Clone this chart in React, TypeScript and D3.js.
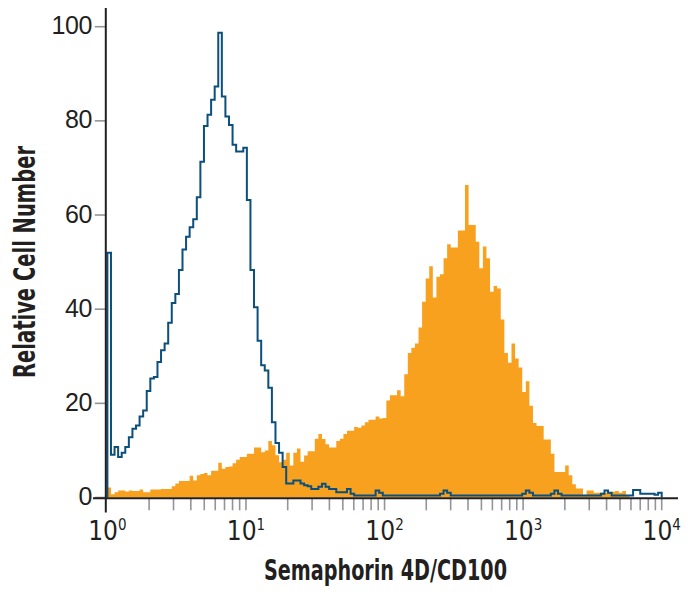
import { useEffect, useRef } from 'react'
import * as d3 from 'd3'

// histogram channels span 4 log decades (10^0 .. 10^4), 155 equal-width bins
const DECADES = 4

// isotype control (blue outline)
const isotypeCounts = [
  52, 9.1, 10.7, 8.6, 9.5, 10.7, 12.8, 14.6, 15.3, 17.2,
  18.5, 22.6, 25.3, 25.6, 28.8, 31.3, 32.7, 37.1, 41.3, 43.2,
  48.3, 52.7, 55.4, 57.4, 59.1, 63.8, 71.3, 78.9, 81.3, 84.5,
  87.3, 98.7, 85.2, 80.9, 79.1, 74.9, 73.5, 73.5, 74.3, 63.2,
  48.3, 40.4, 33.3, 28.1, 27.0, 23.3, 16.0, 11.6, 9.5, 6.5,
  3.0, 3.0, 3.6, 3.6, 3.0, 2.6, 2.4, 1.8, 1.8, 2.3,
  2.9, 2.3, 1.8, 1.8, 1.1, 1.1, 1.1, 1.8, 0.8, 0.4,
  0.4, 0.4, 0.4, 0.4, 0.4, 1.5, 1.0, 0.4, 0.4, 0.4,
  0.4, 0.4, 0.4, 0.4, 0.4, 0.4, 0.4, 0.4, 0.4, 0.4,
  0.4, 0.4, 0.4, 0.8, 1.5, 1.0, 0.4, 0.4, 0.4, 0.4,
  0.4, 0.4, 0.4, 0.4, 0.4, 0.4, 0.4, 0.4, 0.4, 0.4,
  0.4, 0.4, 0.4, 0.4, 0.4, 0.4, 0.8, 1.5, 1.0, 0.4,
  0.4, 0.4, 0.4, 0.4, 0.8, 1.5, 0.8, 0.4, 0.4, 0.4,
  0.4, 0.4, 0.4, 0.4, 0.4, 0.4, 0.4, 0.4, 0.8, 1.5,
  1.0, 0.4, 0.4, 0.4, 0.4, 0.4, 0.4, 1.6, 1.6, 0.8,
  0.8, 0.8, 0.8, 0.6, 1.0
]

// Semaphorin 4D/CD100 stained cells (orange fill)
const cd100Counts = [
  2.1, 0.7, 1.1, 1.5, 1.5, 1.3, 1.5, 1.4, 1.4, 1.7,
  1.1, 1.1, 1.7, 1.7, 1.7, 1.8, 1.8, 1.8, 2.4, 3.0,
  3.5, 3.5, 3.5, 4.6, 3.6, 4.7, 5.0, 5.2, 4.7, 5.7,
  5.7, 7.4, 6.1, 6.5, 6.6, 7.3, 8.0, 8.6, 8.6, 9.3,
  9.3, 10.6, 10.6, 9.6, 10.0, 12.0, 11.1, 9.0, 7.5, 8.0,
  9.5, 6.8, 9.5, 10.4, 7.6, 8.9, 9.8, 9.8, 12.5, 13.5,
  12.4, 11.3, 10.6, 10.6, 12.0, 12.5, 13.5, 14.2, 14.2, 15.0,
  14.8, 15.3, 16.0, 16.5, 16.5, 17.2, 16.8, 16.9, 20.6, 21.7,
  21.7, 22.8, 21.5, 26.2, 30.7, 31.8, 32.7, 36.1, 41.6, 46.5,
  49.1, 42.5, 46.9, 47.4, 50.8, 53.8, 53.1, 53.1, 56.7, 56.7,
  66.4, 57.9, 57.9, 54.3, 48.7, 53.3, 50.8, 43.7, 44.9, 44.4,
  37.8, 30.7, 28.6, 32.7, 29.5, 27.6, 22.4, 24.7, 19.5, 15.8,
  15.2, 15.2, 12.3, 12.3, 9.3, 5.4, 5.4, 5.4, 6.8, 4.7,
  2.8, 1.9, 1.9, 0.6, 1.5, 1.5, 1.0, 1.0, 1.0, 1.0,
  1.0, 1.2, 1.4, 1.0, 1.4, 0.5, 0, 0, 0, 0,
  0, 0, 0, 0, 0
]

const yTicks = [0, 20, 40, 60, 80, 100]
const xDecades = [0, 1, 2, 3, 4]
const xTitle = 'Semaphorin 4D/CD100'
const yTitle = 'Relative Cell Number'

const INK = '#231f20'
const GREY = '#939598'
const ORANGE = '#f8a11f'
const BLUE = '#0b4f7c'
const NARROW = '"Liberation Sans Narrow", "Arial Narrow", "DejaVu Sans Condensed", sans-serif'
const REGULAR = '"Liberation Sans", Arial, sans-serif'

export default function App() {
  const svgRef = useRef<SVGSVGElement>(null)

  useEffect(() => {
    if (!svgRef.current) return
    const svg = d3.select(svgRef.current)
    svg.selectAll('*').remove()

    const x = d3.scaleLog().domain([1, 1e4]).range([107.4, 661.7])
    const y = d3.scaleLinear().domain([0, 100]).range([497.5, 26.7])

    const binEdge = (i: number, n: number) => Math.pow(10, (i * DECADES) / n)

    // orange filled histogram
    const nO = cd100Counts.length
    const orangePts: [number, number][] = cd100Counts.map((v, i) => [binEdge(i, nO), v])
    orangePts.push([binEdge(nO, nO), cd100Counts[nO - 1]])
    const area = d3.area<[number, number]>()
      .x(d => x(d[0]))
      .y0(y(0))
      .y1(d => y(d[1]))
      .curve(d3.curveStepAfter)
    svg.append('path')
      .attr('d', area(orangePts) ?? '')
      .attr('fill', ORANGE)

    // blue outline histogram
    const nB = isotypeCounts.length
    const bluePts: [number, number][] = [[binEdge(0, nB), 0]]
    isotypeCounts.forEach((v, i) => bluePts.push([binEdge(i, nB), v]))
    bluePts.push([binEdge(nB, nB), isotypeCounts[nB - 1]])
    bluePts.push([binEdge(nB, nB), 0])
    const line = d3.line<[number, number]>()
      .x(d => x(d[0]))
      .y(d => y(d[1]))
      .curve(d3.curveStepAfter)
    svg.append('path')
      .attr('d', line(bluePts) ?? '')
      .attr('fill', 'none')
      .attr('stroke', BLUE)
      .attr('stroke-width', 2)

    const axisX = x(1) - 1.6
    const axisY = y(0) + 0.8

    // y ticks + labels
    const yg = svg.append('g')
    yTicks.forEach(t => {
      yg.append('line')
        .attr('x1', axisX - 11).attr('x2', axisX)
        .attr('y1', y(t)).attr('y2', y(t))
        .attr('stroke', GREY).attr('stroke-width', 1.6)
      yg.append('text')
        .attr('x', axisX - 14)
        .attr('y', y(t) + 7.5)
        .attr('text-anchor', 'end')
        .attr('font-family', REGULAR)
        .attr('font-size', 25)
        .attr('letter-spacing', -0.5)
        .attr('fill', INK)
        .text(t)
    })

    // x minor ticks
    const xTickVals: number[] = []
    for (let d = 0; d < DECADES; d++) {
      for (let m = 2; m <= 10; m++) xTickVals.push(m * Math.pow(10, d))
    }
    svg.append('g')
      .selectAll('line')
      .data(xTickVals)
      .enter()
      .append('line')
      .attr('x1', d => x(d)).attr('x2', d => x(d))
      .attr('y1', axisY).attr('y2', axisY + 12)
      .attr('stroke', GREY)
      .attr('stroke-width', 1.6)

    // x decade labels 10^k
    xDecades.forEach(k => {
      const t = svg.append('text')
        .attr('x', x(Math.pow(10, k)))
        .attr('y', 539.5)
        .attr('text-anchor', 'middle')
        .attr('font-family', NARROW)
        .attr('fill', INK)
      t.append('tspan').attr('font-size', 26).text('10')
      t.append('tspan').attr('font-size', 15).attr('dy', -10).text(String(k))
    })

    // axis lines
    svg.append('line')
      .attr('x1', axisX).attr('x2', axisX)
      .attr('y1', 8).attr('y2', 512.5)
      .attr('stroke', INK).attr('stroke-width', 2)
    svg.append('line')
      .attr('x1', 93).attr('x2', 678)
      .attr('y1', axisY).attr('y2', axisY)
      .attr('stroke', INK).attr('stroke-width', 2)

    // titles
    svg.append('text')
      .attr('x', 385.5)
      .attr('y', 580)
      .attr('text-anchor', 'middle')
      .attr('font-family', NARROW)
      .attr('font-weight', 'bold')
      .attr('font-size', 28)
      .attr('textLength', 243)
      .attr('lengthAdjust', 'spacingAndGlyphs')
      .attr('fill', INK)
      .text(xTitle)

    svg.append('text')
      .attr('transform', 'translate(34.5,262) rotate(-90)')
      .attr('text-anchor', 'middle')
      .attr('font-family', NARROW)
      .attr('font-weight', 'bold')
      .attr('font-size', 30)
      .attr('textLength', 232)
      .attr('lengthAdjust', 'spacingAndGlyphs')
      .attr('fill', INK)
      .text(yTitle)
  }, [])

  return (
    <svg
      ref={svgRef}
      width={691}
      height={595}
      style={{ position: 'absolute', left: 0, top: 0, background: '#fff' }}
    />
  )
}
